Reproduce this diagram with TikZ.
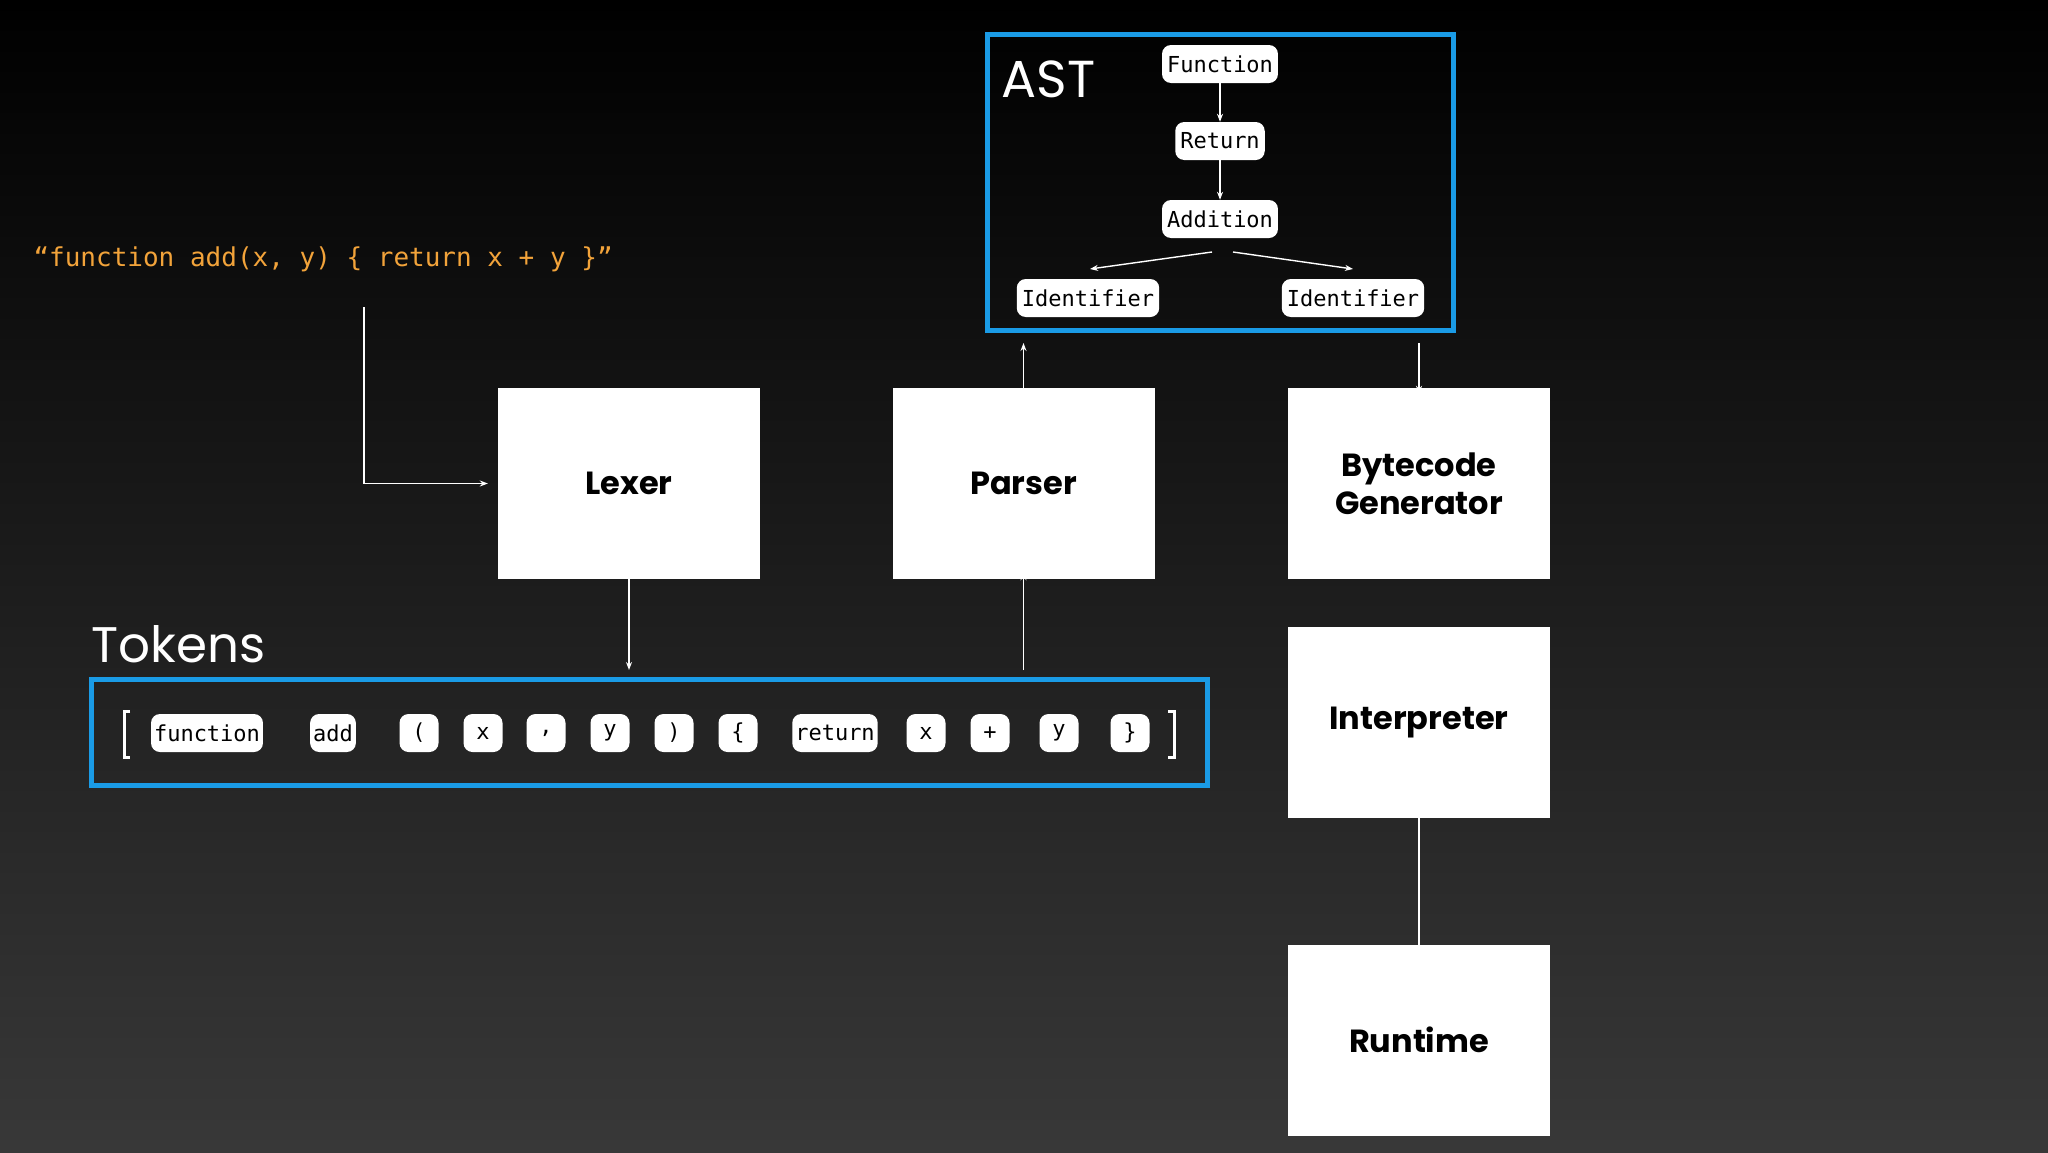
\documentclass[tikz,border=0pt]{standalone}
\usepackage{fontspec}
\setmainfont{Poppins}
\newfontfamily\mono{DejaVu Sans Mono}
\usetikzlibrary{arrows.meta}
\definecolor{blu}{HTML}{1A9BE6}
\definecolor{org}{HTML}{F2A33A}
\begin{document}
\begin{tikzpicture}[x=1pt,y=-1pt,
 box/.style={fill=white,draw=none,minimum width=262,minimum height=191,inner sep=0,font=\fontsize{32}{38}\selectfont\bfseries,align=center},
 pill/.style={fill=white,rounded corners=9,minimum height=38,inner sep=5,font=\mono\fontsize{22}{26}\selectfont},
 tok/.style={pill,minimum width=39,inner sep=3},
 ar/.style={draw=white,line width=1.4,-{Stealth[length=8,width=6]}},
 blue/.style={draw=blu,line width=5}]
\shade[top color=black,bottom color=black!78!white] (0,0) rectangle (2048,1152);
\useasboundingbox (0,0) rectangle (2048,1152);
% boxes
\node[box] (lex) at (629,483.5) {Lexer};
\node[box] (par) at (1023.5,483.5) {Parser};
\node[box] (byte) at (1419,483.5) {Bytecode\\Generator};
\node[box] (int) at (1419,722.5) {Interpreter};
\node[box] (run) at (1419,1040) {Runtime};
% AST
\draw[blue] (987,34) rectangle (1453,330);
\node[anchor=west,white,font=\fontsize{52}{60}\selectfont] (ast) at (998,79) {AST};
\node[pill] (fn) at (1220,64) {Function};
\node[pill] (ret) at (1220,141) {Return};
\node[pill] (add) at (1220,219) {Addition};
\node[pill] (id1) at (1088,298) {Identifier};
\node[pill] (id2) at (1353,298) {Identifier};
\draw[ar] (fn) -- (ret);
\draw[ar] (ret) -- (add);
\coordinate (a1) at (1212,252); \coordinate (a1e) at (1090,269);
\coordinate (a2) at (1233,252); \coordinate (a2e) at (1353,269);
\draw[ar] (a1) -- (a1e);
\draw[ar] (a2) -- (a2e);
% source
\node[anchor=west,text=org,font=\mono\fontsize{26}{30}\selectfont] (src) at (30,259) {“function add(x, y) \{ return x + y \}”};
\coordinate (s0) at (364,307);
\draw[ar] (s0) |- ([xshift=-10]lex.west);
% tokens
\node[anchor=west,white,font=\fontsize{50}{58}\selectfont] (tk) at (88,644) {Tokens};
\draw[blue] (91,679) rectangle (1207,785);
\begin{scope}[every node/.style={tok}]
\node (t1) at (207,733) {function};
\node (t2) at (333,733) {add};
\node (t3) at (419,733) {(};
\node (t4) at (483,733) {x};
\node (t5) at (546,733) {,};
\node (t6) at (610,733) {y};
\node (t7) at (674,733) {)};
\node (t8) at (738,733) {\{};
\node (t9) at (835,733) {return};
\node (t10) at (926,733) {x};
\node (t11) at (990,733) {+};
\node (t12) at (1059,733) {y};
\node (t13) at (1130,733) {\}};
\end{scope}
\draw[white,line width=3] (130,711) -- (124,711) -- (124,757) -- (130,757);
\draw[white,line width=3] (1168,711) -- (1174,711) -- (1174,757) -- (1168,757);
\coordinate (tl) at (629,670); \coordinate (tp) at (1023.5,670);
\draw[ar] ([yshift=7]lex.south) -- (tl);
\draw[ar] (tp) -- ([yshift=7]par.south);
\draw[ar] ([yshift=-6]par.north) -- (1023.5,343);
\draw[ar] (1419,343) -- ([yshift=-6]byte.north);
\draw[draw=white,line width=1.4,{Stealth[length=8,width=6]}-{Stealth[length=8,width=6]}] ([yshift=24]int.south) -- ([yshift=-17]run.north);
\end{tikzpicture}
\end{document}
